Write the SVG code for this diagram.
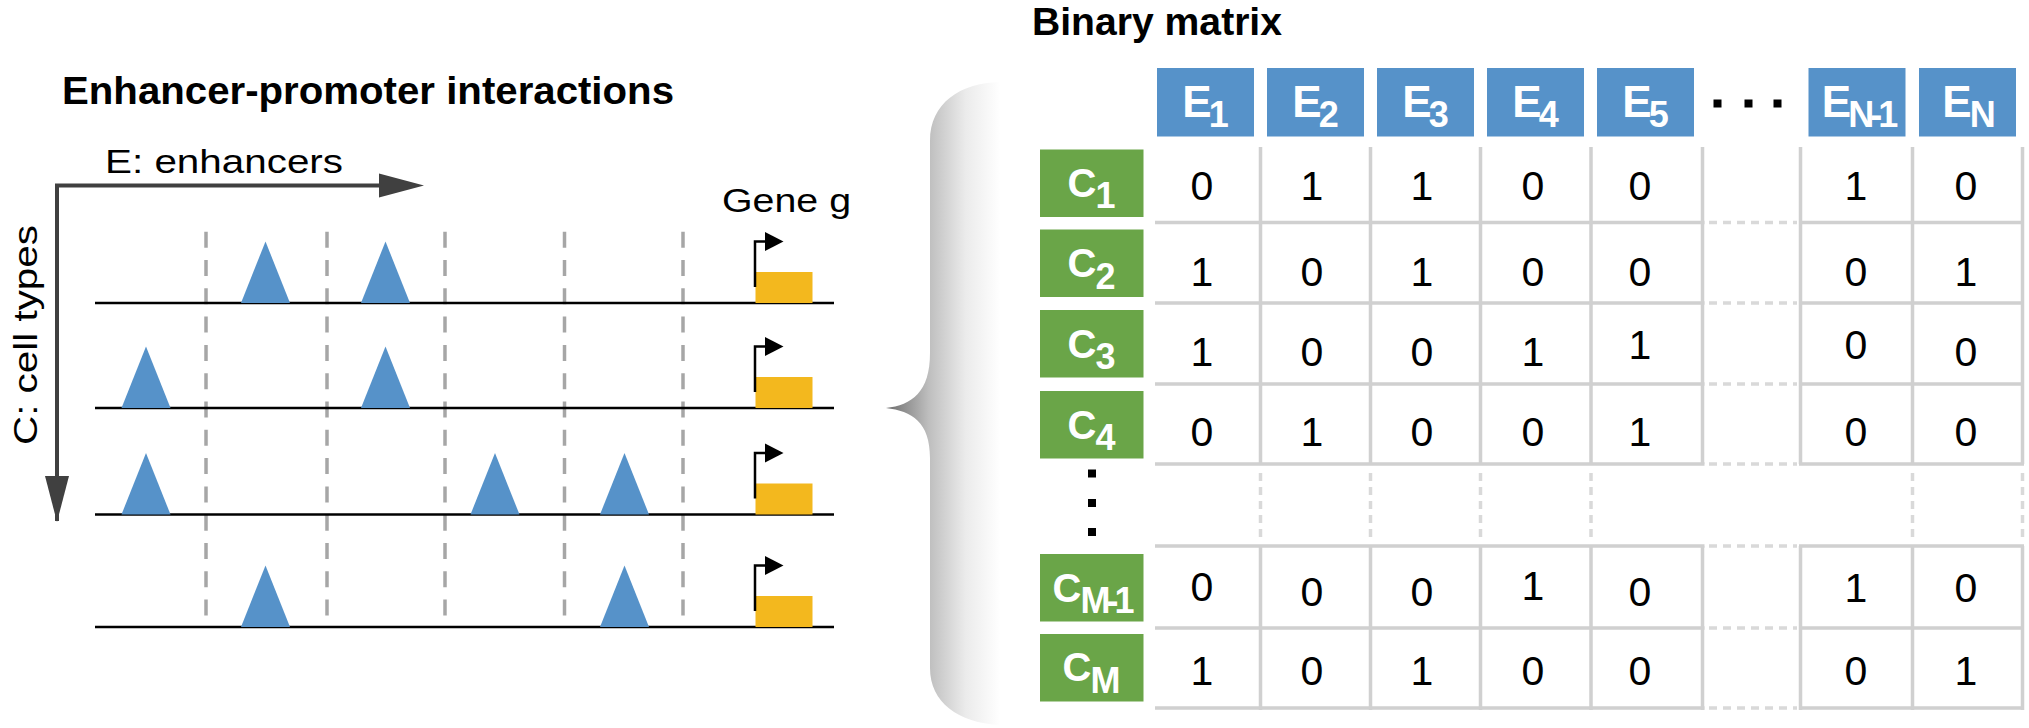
<svg xmlns="http://www.w3.org/2000/svg" width="2029" height="728" viewBox="0 0 2029 728">
<defs>
  <linearGradient id="braceGrad" gradientUnits="userSpaceOnUse" x1="885" y1="0" x2="1000" y2="0">
    <stop offset="0" stop-color="#6a6a6a"/>
    <stop offset="0.38" stop-color="#bebebe"/>
    <stop offset="0.7" stop-color="#ebebeb"/>
    <stop offset="1" stop-color="#ffffff"/>
  </linearGradient>
</defs>
<style>
  text { font-family: "Liberation Sans", Arial, sans-serif; }
  .title { font-size: 39px; font-weight: bold; fill: #000; }
  .lbl { font-size: 34px; fill: #000; }
  .gline { stroke: #000; stroke-width: 2.5; }
  .vdash { stroke: #a6a6a6; stroke-width: 3.5; stroke-dasharray: 16 12.3; fill: none; }
  .tri { fill: #5692c9; }
  .gene { fill: #f3b81e; }
  .prom { stroke: #000; stroke-width: 2.5; fill: none; }
  .arrow { stroke: #404040; stroke-width: 4; fill: none; }
  .arrowhead { fill: #404040; }
  .hbox { fill: #5692c9; }
  .cbox { fill: #6aa548; }
  .htxt { font-size: 44px; font-weight: bold; fill: #fff; }
  .ctxt { font-size: 40px; font-weight: bold; fill: #fff; }
  .sub { font-size: 36px; }
  .grid { stroke: #d0d0d0; stroke-width: 3.5; fill: none; }
  .gdash { stroke: #d9d9d9; stroke-width: 3.5; stroke-dasharray: 8 6; fill: none; }
  .d { font-size: 41px; fill: #000; }
  .dot { fill: #000; }
</style>
<rect width="2029" height="728" fill="#fff"/>

<!-- Left panel -->
<g id="title-left">
  <text class="title" x="62" y="104" textLength="612" lengthAdjust="spacingAndGlyphs">Enhancer-promoter interactions</text>
</g>

<g id="axis-labels">
  <text class="lbl" x="105" y="173" textLength="238" lengthAdjust="spacingAndGlyphs">E: enhancers</text>
  <text class="lbl" transform="translate(37,445) rotate(-90)" x="0" y="0" font-size="37" textLength="220" lengthAdjust="spacingAndGlyphs">C: cell types</text>
  <text class="lbl" x="722" y="211.5" font-size="36" textLength="129" lengthAdjust="spacingAndGlyphs">Gene g</text>
</g>

<g id="connectors">
  <path class="arrow" d="M57 521 V185.5 H382"/>
  <polygon class="arrowhead" points="379,173.5 424,185.5 379,197.5"/>
  <polygon class="arrowhead" points="45,476 69,476 57,522"/>
</g>

<g id="dividers">
  <line class="vdash" x1="206" y1="231.7" x2="206" y2="628"/>
  <line class="vdash" x1="327" y1="231.7" x2="327" y2="628"/>
  <line class="vdash" x1="445" y1="231.7" x2="445" y2="628"/>
  <line class="vdash" x1="564.5" y1="231.7" x2="564.5" y2="628"/>
  <line class="vdash" x1="683" y1="231.7" x2="683" y2="628"/>
</g>

<g id="row1">
  <line class="gline" x1="95" y1="303" x2="834" y2="303"/>
  <polygon class="tri" points="265.5,241.5 241,303 290,303"/>
  <polygon class="tri" points="385.5,241.5 361,303 410,303"/>
  <rect class="gene" x="755.5" y="272" width="57" height="31"/>
  <path class="prom" d="M755 287 V241.5 H767"/>
  <polygon class="dot" points="765,232 783.5,241.5 765,251"/>
</g>

<g id="row2">
  <line class="gline" x1="95" y1="408" x2="834" y2="408"/>
  <polygon class="tri" points="146,346.5 121.5,408 170.5,408"/>
  <polygon class="tri" points="385.5,346.5 361,408 410,408"/>
  <rect class="gene" x="755.5" y="377" width="57" height="31"/>
  <path class="prom" d="M755 392 V346.5 H767"/>
  <polygon class="dot" points="765,337 783.5,346.5 765,356"/>
</g>

<g id="row3">
  <line class="gline" x1="95" y1="514.5" x2="834" y2="514.5"/>
  <polygon class="tri" points="146,453 121.5,514.5 170.5,514.5"/>
  <polygon class="tri" points="495,453 470.5,514.5 519.5,514.5"/>
  <polygon class="tri" points="624.5,453 600,514.5 649,514.5"/>
  <rect class="gene" x="755.5" y="483.5" width="57" height="31"/>
  <path class="prom" d="M755 498.5 V453 H767"/>
  <polygon class="dot" points="765,443.5 783.5,453 765,462.5"/>
</g>

<g id="row4">
  <line class="gline" x1="95" y1="627" x2="834" y2="627"/>
  <polygon class="tri" points="265.5,565.5 241,627 290,627"/>
  <polygon class="tri" points="624.5,565.5 600,627 649,627"/>
  <rect class="gene" x="755.5" y="596" width="57" height="31"/>
  <path class="prom" d="M755 611 V565.5 H767"/>
  <polygon class="dot" points="765,556 783.5,565.5 765,575"/>
</g>

<!-- Brace -->
<g id="brace">
  <path fill="url(#braceGrad)" d="M1000 82 C960 83 930 103 930 141 L930 353 C930 392 912 405 886 408 C912 411 930 422 930 458 L930 668 C930 702 958 723 1000 725 Z"/>
</g>

<!-- Right panel -->
<g id="title-right">
  <text class="title" x="1032" y="35" font-size="40" textLength="250" lengthAdjust="spacingAndGlyphs">Binary matrix</text>
</g>

<g id="grid">
  <path class="grid" d="M1155 222.5 H1704.5 M1799 222.5 H2024
    M1155 303 H1704.5 M1799 303 H2024
    M1155 384 H1704.5 M1799 384 H2024
    M1155 464 H1704.5 M1799 464 H2024
    M1155 546 H1704.5 M1799 546 H2024
    M1155 628 H1704.5 M1799 628 H2024
    M1155 708 H1704.5 M1799 708 H2024"/>
  <path class="gdash" d="M1709 222.5 H1797 M1709 303 H1797 M1709 384 H1797 M1709 464 H1797 M1709 546 H1797 M1709 628 H1797 M1709 708 H1797"/>
  <path class="grid" d="M1260.5 147 V464 M1260.5 546 V710
    M1370.5 147 V464 M1370.5 546 V710
    M1480.5 147 V464 M1480.5 546 V710
    M1591 147 V464 M1591 546 V710
    M1702.5 147 V464 M1702.5 546 V710
    M1800.5 147 V464 M1800.5 546 V710
    M1912.5 147 V464 M1912.5 546 V710
    M2022.5 147 V464 M2022.5 546 V710"/>
  <path class="gdash" d="M1260.5 473 V542 M1370.5 473 V542 M1480.5 473 V542 M1591 473 V542 M1912.5 473 V542 M2022.5 473 V542"/>
</g>

<g id="hdr-E1"><rect class="hbox" x="1157" y="68" width="97" height="68.5"/><text class="htxt" x="1205.5" y="117.3" text-anchor="middle">E<tspan class="sub" dx="-3" dy="9.4">1</tspan></text></g>
<g id="hdr-E2"><rect class="hbox" x="1267" y="68" width="97" height="68.5"/><text class="htxt" x="1315.5" y="117.3" text-anchor="middle">E<tspan class="sub" dx="-3" dy="9.4">2</tspan></text></g>
<g id="hdr-E3"><rect class="hbox" x="1377" y="68" width="97" height="68.5"/><text class="htxt" x="1425.5" y="117.3" text-anchor="middle">E<tspan class="sub" dx="-3" dy="9.4">3</tspan></text></g>
<g id="hdr-E4"><rect class="hbox" x="1487" y="68" width="97" height="68.5"/><text class="htxt" x="1535.5" y="117.3" text-anchor="middle">E<tspan class="sub" dx="-3" dy="9.4">4</tspan></text></g>
<g id="hdr-E5"><rect class="hbox" x="1597" y="68" width="97" height="68.5"/><text class="htxt" x="1645.5" y="117.3" text-anchor="middle">E<tspan class="sub" dx="-3" dy="9.4">5</tspan></text></g>
<g id="hdr-dots">
  <rect class="dot" x="1713.5" y="99.5" width="8" height="8"/>
  <rect class="dot" x="1744.5" y="99.5" width="8" height="8"/>
  <rect class="dot" x="1773.5" y="99.5" width="8" height="8"/>
</g>
<g id="hdr-EN-1"><rect class="hbox" x="1808.5" y="68" width="97" height="68.5"/><text class="htxt" x="1858" y="117.3" text-anchor="middle">E<tspan class="sub" font-size="34" dx="-3" dy="9.4" letter-spacing="-4">N-1</tspan></text></g>
<g id="hdr-EN"><rect class="hbox" x="1919" y="68" width="97" height="68.5"/><text class="htxt" x="1969" y="117.3" text-anchor="middle">E<tspan class="sub" font-size="34" dx="-2" dy="9.4">N</tspan></text></g>

<g id="lbl-C1"><rect class="cbox" x="1040" y="149.5" width="103.5" height="67.5"/><text class="ctxt" x="1091.5" y="196.5" text-anchor="middle">C<tspan class="sub" dx="-1" dy="11.5">1</tspan></text></g>
<g id="lbl-C2"><rect class="cbox" x="1040" y="229.5" width="103.5" height="67.5"/><text class="ctxt" x="1091.5" y="277" text-anchor="middle">C<tspan class="sub" dx="-1" dy="11.5">2</tspan></text></g>
<g id="lbl-C3"><rect class="cbox" x="1040" y="310" width="103.5" height="67.5"/><text class="ctxt" x="1091.5" y="357.5" text-anchor="middle">C<tspan class="sub" dx="-1" dy="11.5">3</tspan></text></g>
<g id="lbl-C4"><rect class="cbox" x="1040" y="391" width="103.5" height="67.5"/><text class="ctxt" x="1091.5" y="438.5" text-anchor="middle">C<tspan class="sub" dx="-1" dy="11.5">4</tspan></text></g>
<g id="lbl-dots">
  <rect class="dot" x="1088" y="469.5" width="8" height="8"/>
  <rect class="dot" x="1088" y="499" width="8" height="8"/>
  <rect class="dot" x="1088" y="528" width="8" height="8"/>
</g>
<g id="lbl-CM-1"><rect class="cbox" x="1040" y="554" width="103.5" height="67.5"/><text class="ctxt" x="1091.5" y="602" text-anchor="middle">C<tspan class="sub" font-size="32" dx="-1" dy="10.5" letter-spacing="-4">M-1</tspan></text></g>
<g id="lbl-CM"><rect class="cbox" x="1040" y="634" width="103.5" height="67.5"/><text class="ctxt" x="1091.5" y="681" text-anchor="middle">C<tspan class="sub" font-size="34" dx="-1" dy="11.5">M</tspan></text></g>

<g id="values" text-anchor="middle">
  <text class="d" x="1202" y="200">0</text>
  <text class="d" x="1312" y="200">1</text>
  <text class="d" x="1422" y="200">1</text>
  <text class="d" x="1533" y="200">0</text>
  <text class="d" x="1640" y="200">0</text>
  <text class="d" x="1856" y="200">1</text>
  <text class="d" x="1966" y="200">0</text>
  <text class="d" x="1202" y="286">1</text>
  <text class="d" x="1312" y="286">0</text>
  <text class="d" x="1422" y="286">1</text>
  <text class="d" x="1533" y="286">0</text>
  <text class="d" x="1640" y="286">0</text>
  <text class="d" x="1856" y="286">0</text>
  <text class="d" x="1966" y="286">1</text>
  <text class="d" x="1202" y="366">1</text>
  <text class="d" x="1312" y="366">0</text>
  <text class="d" x="1422" y="366">0</text>
  <text class="d" x="1533" y="366">1</text>
  <text class="d" x="1640" y="359">1</text>
  <text class="d" x="1856" y="359">0</text>
  <text class="d" x="1966" y="366">0</text>
  <text class="d" x="1202" y="445.5">0</text>
  <text class="d" x="1312" y="445.5">1</text>
  <text class="d" x="1422" y="445.5">0</text>
  <text class="d" x="1533" y="445.5">0</text>
  <text class="d" x="1640" y="445.5">1</text>
  <text class="d" x="1856" y="445.5">0</text>
  <text class="d" x="1966" y="445.5">0</text>
  <text class="d" x="1202" y="601">0</text>
  <text class="d" x="1312" y="606">0</text>
  <text class="d" x="1422" y="606">0</text>
  <text class="d" x="1533" y="600">1</text>
  <text class="d" x="1640" y="606">0</text>
  <text class="d" x="1856" y="602">1</text>
  <text class="d" x="1966" y="602">0</text>
  <text class="d" x="1202" y="685">1</text>
  <text class="d" x="1312" y="685">0</text>
  <text class="d" x="1422" y="685">1</text>
  <text class="d" x="1533" y="685">0</text>
  <text class="d" x="1640" y="685">0</text>
  <text class="d" x="1856" y="685">0</text>
  <text class="d" x="1966" y="685">1</text>
</g>
</svg>
